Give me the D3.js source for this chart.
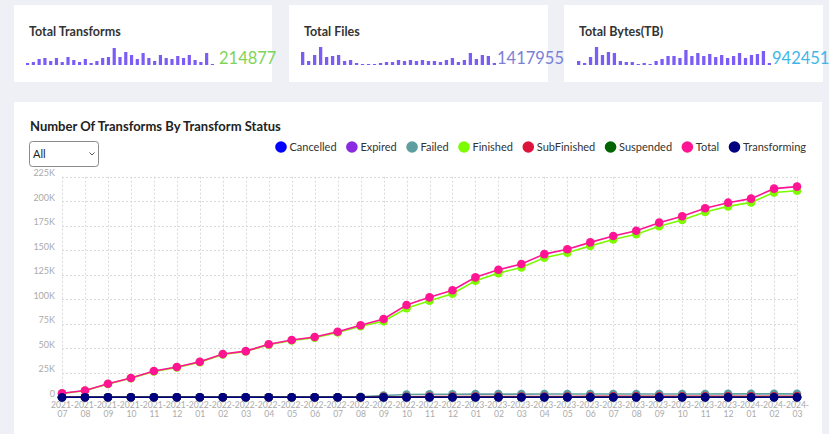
<!DOCTYPE html>
<html><head><meta charset="utf-8">
<script src="https://cdn.jsdelivr.net/npm/d3@7/dist/d3.min.js"></script>
<style>
html,body{margin:0;padding:0;background:#eef0f5;overflow:hidden;}
svg{display:block;font-family:Lato,"Open Sans",sans-serif;}
</style></head>
<body>
<svg id="c" width="829" height="434"></svg>
<script>
// ---------- data ----------
const months = ["2021-07","2021-08","2021-09","2021-10","2021-11","2021-12",
"2022-01","2022-02","2022-03","2022-04","2022-05","2022-06","2022-07","2022-08","2022-09","2022-10","2022-11","2022-12",
"2023-01","2023-02","2023-03","2023-04","2023-05","2023-06","2023-07","2023-08","2023-09","2023-10","2023-11","2023-12",
"2024-01","2024-02","2024-03"];
const total = [4000,6800,13800,19600,26700,30800,36200,44000,47000,54000,58400,61400,66800,73400,79800,94100,101900,109100,
122300,130100,135900,146000,151000,158000,164500,169900,178100,184600,192800,198500,202600,212800,214877];
const finished = [3800,6600,13500,19300,26300,30400,35800,43600,46600,53500,57900,60800,66100,72400,77600,90800,98400,105600,
118800,126600,132400,142400,147400,154400,160900,166200,174400,180800,189000,194700,198800,208800,210600];
const failed = [0,0,0,0,0,0,0,0,0,0,0,0,0,400,1800,2800,3000,3000,3100,3100,3100,3200,3200,3200,3200,3300,3300,3300,3300,3400,3400,3400,3400];
const subFinished = [0,0,0,0,0,0,0,0,0,0,0,0,0,0,300,500,600,600,700,700,700,700,700,800,800,800,800,800,800,900,900,900,900];
const cancelled = months.map(() => 0);
const expired = months.map(() => 0);
const suspended = months.map(() => 0);
const transforming = months.map(() => 0);
const seriesNames = ["Cancelled","Expired","Failed","Finished","SubFinished","Suspended","Total","Transforming"];
const seriesColors = ["#0000ff","#8a2be2","#5f9ea0","#7cfc00","#dc143c","#006400","#ff1493","#000080"];
const seriesValues = [cancelled,expired,failed,finished,subFinished,suspended,total,transforming];
const yTicks = [0,25000,50000,75000,100000,125000,150000,175000,200000,225000];

const cardTitles = ["Total Transforms","Total Files","Total Bytes(TB)"];
const cardValues = ["214877","14179556","942451"];
const cardValueColors = ["#7fd45a","#7b7fd8","#3fb6e8"];
const sparkTransforms = [2,3,6,7,4,7,3,8,5,3,6,2,4,7,8,17,8,13,10,6,12,7,4,10,7,6,9,7,10,5,3,12,1];
const sparkFiles = [13,4,10,18,8,9,10,4,5,2,1,1,1,2,3,3,5,4,5,4,5,4,4,3,5,7,3,5,12,6,10,9,2];
const sparkBytes = [4,2,8,18,10,13,12,4,3,3,1,2,1,4,6,9,9,7,15,9,12,9,11,8,10,7,9,12,7,10,11,14,2];
const sparks = [sparkTransforms,sparkFiles,sparkBytes];

// ---------- layout ----------
const svg = d3.select("#c");
svg.append("rect").attr("width",829).attr("height",434).attr("fill","#eef0f5");

const cards = [{x:14,w:258,b0:26,b1:214,tx:219},{x:289,w:259,b0:301,b1:496,tx:497},{x:564,w:259,b0:577,b1:771,tx:772}];
cards.forEach((c,i)=>{
  const g = svg.append("g");
  g.append("rect").attr("x",c.x).attr("y",5).attr("width",c.w).attr("height",77).attr("fill","#fff");
  g.append("text").attr("x",c.x+15).attr("y",36).attr("font-size",12.5).attr("font-weight",700).attr("fill","#333").text(cardTitles[i]);
  const data = sparks[i];
  const sx = d3.scaleBand().domain(d3.range(data.length)).range([c.b0,c.b1]).paddingInner(0.45);
  const sy = d3.scaleLinear().domain([0,18]).range([65,47]);
  g.selectAll(".sb").data(data).join("rect")
    .attr("x",(d,j)=>sx(j)).attr("width",sx.bandwidth())
    .attr("y",d=>sy(d)).attr("height",d=>65-sy(d)).attr("fill","#7b5cf5");
  g.append("text").attr("x",c.tx).attr("y",64).attr("font-size",16.5).attr("fill",cardValueColors[i]).text(cardValues[i]);
});

// main panel
svg.append("rect").attr("x",14).attr("y",102).attr("width",808).attr("height",340).attr("fill","#fff");
svg.append("text").attr("x",30).attr("y",131).attr("font-size",13).attr("font-weight",700).attr("fill","#222")
  .text("Number Of Transforms By Transform Status");

// dropdown
const dd = svg.append("g");
dd.append("rect").attr("x",29.5).attr("y",141.5).attr("width",69).attr("height",25).attr("rx",3)
  .attr("fill","#fff").attr("stroke","#8a8a8a");
dd.append("text").attr("x",33).attr("y",158).attr("font-size",11).attr("fill","#222").text("All");
dd.append("path").attr("d","M89.5,152.5 L92,155 L94.5,152.5").attr("fill","none").attr("stroke","#555").attr("stroke-width",1);

// scales
const x = d3.scalePoint().domain(months).range([62,797]);
const y = d3.scaleLinear().domain([0,225000]).range([397.2,176.7]);

// grid
const grid = svg.append("g").attr("stroke","#d9d9d9").attr("stroke-dasharray","2,2").attr("stroke-width",1);
grid.selectAll(".hg").data(yTicks).join("line")
  .attr("x1",62).attr("x2",797).attr("y1",d=>Math.round(y(d))+0.5).attr("y2",d=>Math.round(y(d))+0.5);
grid.selectAll(".vg").data(months).join("line")
  .attr("x1",d=>Math.round(x(d))+0.5).attr("x2",d=>Math.round(x(d))+0.5).attr("y1",176.7).attr("y2",397.5);

// y axis
const yAxis = d3.axisLeft(y).tickValues(yTicks).tickSize(0).tickPadding(0)
  .tickFormat(d=> d===0 ? "0" : (d/1000)+"K");
const ya = svg.append("g").attr("transform","translate(55,-4)").call(yAxis);
ya.select(".domain").remove();
ya.selectAll("text").attr("font-size",9).attr("fill","#aaa").attr("font-family","Lato,sans-serif");

// x axis
const xAxis = d3.axisBottom(x).tickSize(0).tickPadding(0);
const xa = svg.append("g").attr("transform","translate(0,397)").call(xAxis);
xa.select(".domain").remove();
xa.selectAll(".tick text").each(function(d){
  const t = d3.select(this);
  t.text(null).attr("font-size",8.6).attr("fill","#aaa").attr("font-family","Lato,sans-serif").attr("y",0).attr("dy",null);
  const p = d.split("-");
  t.append("tspan").attr("x",0).attr("y",10.5).text(p[0]+"-");
  t.append("tspan").attr("x",0).attr("y",19.5).text(p[1]);
});

// series
seriesValues.forEach((vals,i)=>{
  const g = svg.append("g");
  const line = d3.line().x((d,j)=>x(months[j])).y(d=>y(d));
  g.append("path").datum(vals).attr("d",line).attr("fill","none")
    .attr("stroke",seriesColors[i]).attr("stroke-width",1.6);
  g.selectAll("circle").data(vals).join("circle")
    .attr("cx",(d,j)=>x(months[j])).attr("cy",d=>y(d)).attr("r",4.3).attr("fill",seriesColors[i]);
});

// legend
const lg = svg.append("g").attr("font-size",11).attr("fill","#333");
const items = seriesNames.map((n,i)=>{
  const gi = lg.append("g");
  gi.append("circle").attr("r",5.8).attr("cx",0).attr("cy",0).attr("fill",seriesColors[i]);
  const t = gi.append("text").attr("x",8.5).attr("y",4).text(n);
  return {g:gi, w: 8.5 + t.node().getComputedTextLength()};
});
const totalW = d3.sum(items,d=>d.w);
const gap = (806 - 281 - totalW) / (items.length-1);
let lx = 281;
items.forEach(it=>{ it.g.attr("transform",`translate(${lx},147)`); lx += it.w + gap; });
</script>
</body></html>
